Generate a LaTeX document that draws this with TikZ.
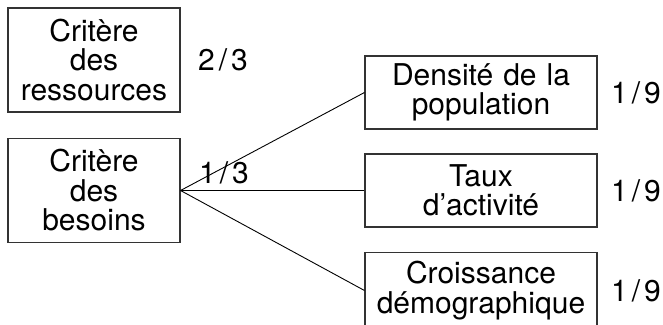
\documentclass[tikz,border=0pt]{standalone}
\usepackage{fontspec}
\setmainfont{TeX Gyre Heros}
\usepackage{tikz}
\usetikzlibrary{shapes,arrows}

\newcommand{\wt}[2]{#1\kern4pt/\kern4pt#2}

\begin{document}
\begin{tikzpicture}[x=1pt, y=1pt, node distance = 98pt, auto]
	\tikzstyle{block} = [rectangle, draw=black!80, line width=1.1pt, 
	text width=232pt, text centered, inner sep=0pt, minimum height=73pt,
	font=\fontsize{30}{29.5}\selectfont]
	\tikzstyle{crit} = [block, text width=172pt, minimum height=104pt]
	\tikzstyle{ratio} = [font=\fontsize{30}{29.5}\selectfont, inner sep=0pt]
	\tikzstyle{line} = [draw, line width=0.9pt]
	\clip (0,0) rectangle (663,324);
	% Place nodes
	\node [crit] (ressources) at (94,264) {Critère\\des\\ressources};
	\node [crit, below of=ressources, node distance=130.5pt] (besoins) {Critère\\des\\besoins};
	\node [block, right of=besoins, node distance=387pt] (taux) {Taux\\d’activité};
	\node [block, above of=taux] (densite) {Densité de la\\population};
	\node [block, below of=taux, node distance=100pt, minimum height=76pt] (croissance) {Croissance\\démographique};
	% Place weights
	\node [ratio, right of=ressources, node distance=129pt] (w-ressources) {\wt{2}{3}};
	\node [ratio] (w-besoins) at (224,151) {\wt{1}{3}};
	\node [ratio, right of=densite, node distance=155pt] (w-densite) {\wt{1}{9}};
	\node [ratio, right of=taux, node distance=155pt] (w-taux) {\wt{1}{9}};
	\node [ratio, right of=croissance, node distance=155pt] (w-croissance) {\wt{1}{9}};
	% Draw edges
	\path [line] (besoins.east) -- (densite.west);
	\path [line] (besoins.east) -- (taux.west);
	\path [line] (besoins.east) -- (croissance.west);
\end{tikzpicture}
\end{document}
